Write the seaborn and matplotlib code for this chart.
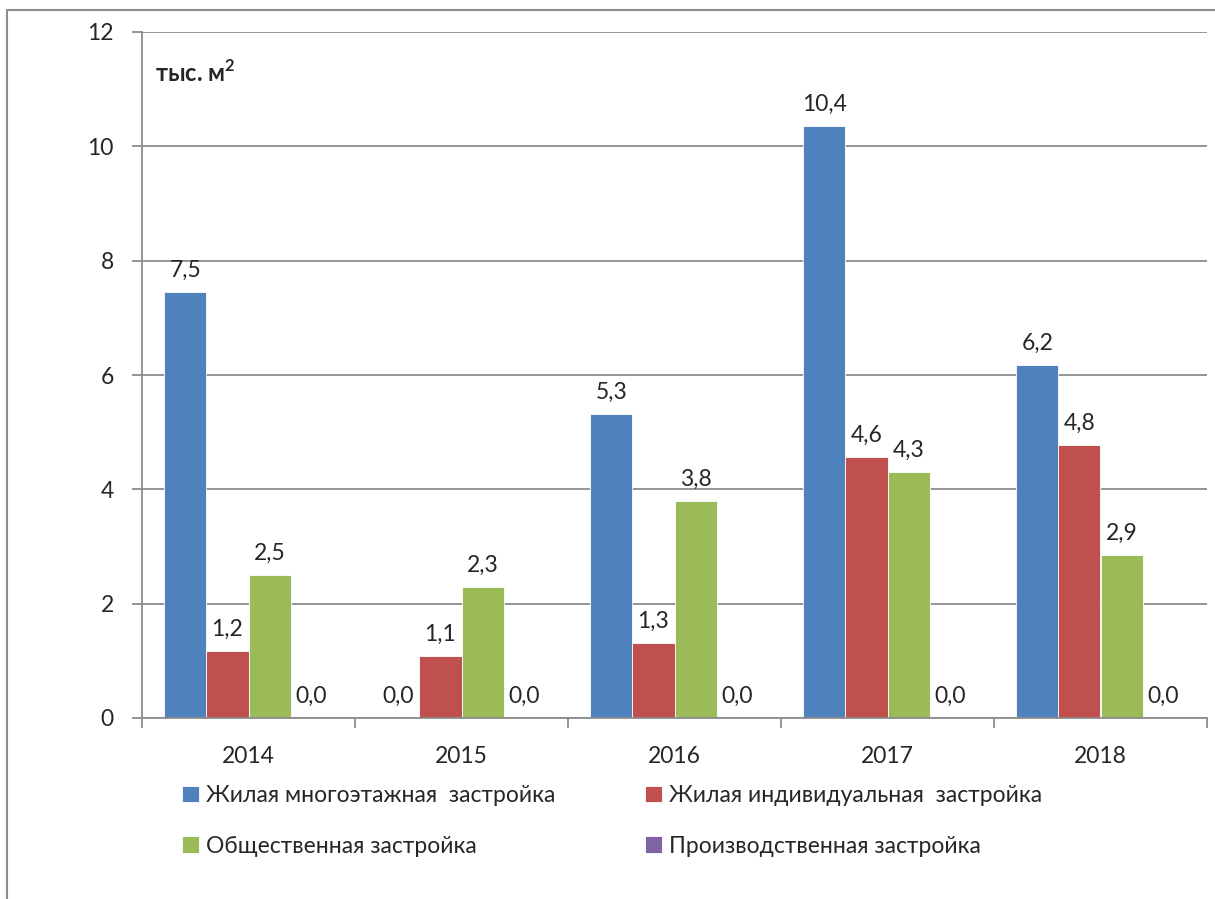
import matplotlib.pyplot as plt
import pandas as pd
import seaborn as sns
from matplotlib.patches import Rectangle

years = ["2014", "2015", "2016", "2017", "2018"]
series_names = [
    "Жилая многоэтажная  застройка",
    "Жилая индивидуальная  застройка",
    "Общественная застройка",
    "Производственная застройка",
]
multi_storey = [7.46, 0.0, 5.32, 10.36, 6.18]
individual = [1.18, 1.08, 1.32, 4.57, 4.78]
public = [2.51, 2.30, 3.80, 4.30, 2.86]
industrial = [0.0, 0.0, 0.0, 0.0, 0.0]
colors = ["#4F81BD", "#C0504D", "#9BBB59", "#8064A2"]
y_ticks = [0, 2, 4, 6, 8, 10, 12]
unit_label = "тыс. м$^\\mathbf{2}$"

sns.set_style("white")
plt.rcParams["font.family"] = ["Lato", "DejaVu Sans"]
plt.rcParams["mathtext.fontset"] = "custom"
plt.rcParams["mathtext.bf"] = "Lato:bold"

rows = []
for name, values in zip(series_names, [multi_storey, individual, public, industrial]):
    for year, value in zip(years, values):
        rows.append({"year": year, "series": name, "value": value})
df = pd.DataFrame(rows)

fig = plt.figure(figsize=(12.15, 8.99), dpi=100)
ax = fig.add_axes([142 / 1215, 1 - 718 / 899, (1207 - 142) / 1215, (718 - 32) / 899])

sns.barplot(
    data=df, x="year", y="value", hue="series", order=years, hue_order=series_names,
    palette=colors, saturation=1, width=0.79, edgecolor="#ffffff", linewidth=0.6, ax=ax,
)

font_size = 16.5
grid_color = "#8c8c8c"
ax.set_ylim(0, 12)
ax.set_xlim(-0.5, len(years) - 0.5)
ax.set_yticks(y_ticks)
ax.set_yticklabels([str(t) for t in y_ticks], fontsize=font_size)
ax.yaxis.grid(True, color=grid_color, linewidth=1.3)
ax.set_axisbelow(True)
ax.set_xlabel("")
ax.set_ylabel("")
ax.tick_params(axis="x", which="major", length=0, pad=20, labelsize=font_size)
ax.set_xticks([i + 0.5 for i in range(-1, len(years))], minor=True)
ax.tick_params(axis="x", which="minor", length=7.2, width=1.3, color=grid_color, direction="out")
ax.tick_params(axis="y", length=7.2, width=1.3, color=grid_color, direction="out", pad=13)
ax.tick_params(axis="both", bottom=True, left=True, which="both")
for side in ["top", "right"]:
    ax.spines[side].set_visible(False)
for side in ["left", "bottom"]:
    ax.spines[side].set_color(grid_color)
    ax.spines[side].set_linewidth(1.3)

for container in ax.containers:
    labels = [f"{bar.get_height():.1f}".replace(".", ",") for bar in container]
    ax.bar_label(container, labels=labels, padding=8, fontsize=font_size)

ax.text(0.012, 0.96, unit_label, transform=ax.transAxes, fontsize=17,
        fontweight="bold", va="top", ha="left")

handles, labels = ax.get_legend_handles_labels()
ax.get_legend().remove()
# row-major order like the original legend
order = [0, 2, 1, 3]
fig.legend(
    [handles[i] for i in order], [labels[i] for i in order], ncol=2, loc="upper left",
    bbox_to_anchor=(182 / 1215, 1 - 785 / 899),
    frameon=False, fontsize=font_size, handlelength=0.75, handleheight=0.75, handletextpad=0.3,
    columnspacing=3.9, labelspacing=1.3, borderaxespad=0, borderpad=0,
)

fig.add_artist(Rectangle((7 / 1215, -0.1), 1.2, (899 - 10) / 899 + 0.1,
                         transform=fig.transFigure, fill=False, ec="#8c8c8c", lw=1.5))

fig.savefig("out.png", dpi=100, facecolor="white")
